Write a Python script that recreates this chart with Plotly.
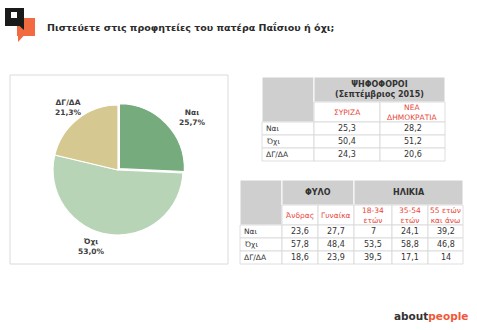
import plotly.graph_objects as go

# ---------------- data ----------------
title_text = "Πιστεύετε στις προφητείες του πατέρα Παΐσιου ή όχι;"

pie_labels = ["Ναι", "Όχι", "ΔΓ/ΔΑ"]
pie_values = [25.7, 53.0, 21.3]

row_labels = ["Ναι", "Όχι", "ΔΓ/ΔΑ"]

t1_group = ["ΨΗΦΟΦΟΡΟΙ<br>(Σεπτέμβριος 2015)"]
t1_group_span = [2]
t1_columns = ["ΣΥΡΙΖΑ", "ΝΕΑ<br>ΔΗΜΟΚΡΑΤΙΑ"]
t1_syriza = [25.3, 50.4, 24.3]
t1_nd = [28.2, 51.2, 20.6]

t2_groups = ["ΦΥΛΟ", "ΗΛΙΚΙΑ"]
t2_group_span = [2, 3]
t2_columns = ["Άνδρας", "Γυναίκα", "18-34<br>ετών", "35-54<br>ετών", "55 ετών<br>και άνω"]
t2_men = [23.6, 57.8, 18.6]
t2_women = [27.7, 48.4, 23.9]
t2_age_18_34 = [7, 53.5, 39.5]
t2_age_35_54 = [24.1, 58.8, 17.1]
t2_age_55 = [39.2, 46.8, 14]

brand_a = "about"
brand_b = "people"

# ---------------- style ----------------
W, H = 477, 330
FONT = "DejaVu Sans"
DARK = "#333333"
RED = "#E8483B"
GRAY = "#CFCFCF"
GRID = "#D6D6D6"
ORANGE = "#F26A3F"
pie_colors = ["#76AB7D", "#B8D4B6", "#D6C891"]
pie_center = (118, 170)
pie_radius = 65
pie_pull = [0.03, 0, 0]
pie_label_pos = [(192, 117.5), (91, 246.5), (68, 107.5)]

t1_x = [262, 314, 380, 445]
t1_y = [77, 102, 122, 135, 148, 161]
t2_x = [240, 282, 318, 354, 392, 428, 463]
t2_y = [180, 205, 225, 238, 251, 264]


def fmt(v):
    if float(v).is_integer():
        return str(int(v))
    return str(v).replace(".", ",")


fig = go.Figure()

# invisible trace to instantiate a pixel-unit cartesian frame
fig.add_trace(go.Scatter(x=[0, W], y=[0, H], mode="markers",
                         marker=dict(opacity=0), hoverinfo="skip", showlegend=False))

# pie
cx, cy = pie_center
s = pie_radius * (1 + max(pie_pull))
fig.add_trace(go.Pie(
    labels=pie_labels, values=pie_values, sort=False, direction="clockwise",
    rotation=0, pull=pie_pull, textinfo="none", hoverinfo="skip",
    marker=dict(colors=pie_colors, line=dict(color="white", width=1.2)),
    domain=dict(x=[(cx - s) / W, (cx + s) / W], y=[1 - (cy + s) / H, 1 - (cy - s) / H]),
    showlegend=False,
))

shapes = []
annotations = []

# pie panel frame
shapes.append(dict(type="rect", xref="x", yref="y", x0=10, x1=228, y0=75, y1=264,
                   line=dict(color="#DADADA", width=1), fillcolor="rgba(0,0,0,0)", layer="below"))

for lab, val, (lx, ly) in zip(pie_labels, pie_values, pie_label_pos):
    annotations.append(dict(x=lx, y=ly, xref="x", yref="y", showarrow=False,
                            text=f"<b>{lab}<br>{val:.1f}%</b>".replace(".", ","),
                            font=dict(family=FONT, size=7.5, color="#404040"),
                            xanchor="center", yanchor="middle", align="center"))


def draw_table(xe, ye, groups, spans, columns, series):
    # label column header (gray, spanning both header rows)
    shapes.append(dict(type="rect", xref="x", yref="y", x0=xe[0], x1=xe[1], y0=ye[0], y1=ye[2],
                       fillcolor=GRAY, line=dict(color="white", width=1)))
    # group headers
    ci = 1
    for g, sp in zip(groups, spans):
        x0, x1 = xe[ci], xe[ci + sp]
        shapes.append(dict(type="rect", xref="x", yref="y", x0=x0, x1=x1, y0=ye[0], y1=ye[1],
                           fillcolor=GRAY, line=dict(color="white", width=1)))
        annotations.append(dict(x=(x0 + x1) / 2, y=(ye[0] + ye[1]) / 2, xref="x", yref="y",
                                showarrow=False, text=f"<b>{g}</b>", align="center",
                                font=dict(family=FONT, size=8, color=DARK)))
        ci += sp
    # column headers
    for j, col in enumerate(columns):
        x0, x1 = xe[j + 1], xe[j + 2]
        shapes.append(dict(type="rect", xref="x", yref="y", x0=x0, x1=x1, y0=ye[1], y1=ye[2],
                           fillcolor="white", line=dict(color=GRID, width=0.8)))
        annotations.append(dict(x=(x0 + x1) / 2, y=(ye[1] + ye[2]) / 2, xref="x", yref="y",
                                showarrow=False, text=col, align="center",
                                font=dict(family=FONT, size=7.5, color=RED)))
    # body
    for i, rl in enumerate(row_labels):
        y0, y1 = ye[2 + i], ye[3 + i]
        shapes.append(dict(type="rect", xref="x", yref="y", x0=xe[0], x1=xe[1], y0=y0, y1=y1,
                           fillcolor="white", line=dict(color=GRID, width=0.8)))
        annotations.append(dict(x=xe[0] + 2, y=(y0 + y1) / 2, xref="x", yref="y",
                                showarrow=False, text=rl, xanchor="left",
                                font=dict(family=FONT, size=7.5, color=DARK)))
        for j, ser in enumerate(series):
            x0, x1 = xe[j + 1], xe[j + 2]
            shapes.append(dict(type="rect", xref="x", yref="y", x0=x0, x1=x1, y0=y0, y1=y1,
                               fillcolor="white", line=dict(color=GRID, width=0.8)))
            annotations.append(dict(x=(x0 + x1) / 2, y=(y0 + y1) / 2, xref="x", yref="y",
                                    showarrow=False, text=fmt(ser[i]),
                                    font=dict(family=FONT, size=8, color=DARK)))


draw_table(t1_x, t1_y, t1_group, t1_group_span, t1_columns, [t1_syriza, t1_nd])
draw_table(t2_x, t2_y, t2_groups, t2_group_span, t2_columns,
           [t2_men, t2_women, t2_age_18_34, t2_age_35_54, t2_age_55])

# logo
shapes += [
    dict(type="rect", xref="x", yref="y", x0=17, x1=35, y0=18, y1=36, fillcolor=ORANGE, line=dict(width=0)),
    dict(type="path", xref="x", yref="y", path="M 18 35.5 L 24 35.5 L 18 42 Z", fillcolor=ORANGE, line=dict(width=0)),
    dict(type="rect", xref="x", yref="y", x0=5, x1=24, y0=8, y1=26, fillcolor="#1A1A1A", line=dict(width=0)),
    dict(type="path", xref="x", yref="y", path="M 19 25.5 L 24 25.5 L 24 30 Z", fillcolor="#1A1A1A", line=dict(width=0)),
    dict(type="rect", xref="x", yref="y", x0=11, x1=17, y0=12, y1=18, fillcolor="white", line=dict(width=0)),
]

# title
annotations.append(dict(x=45, y=27, xref="x", yref="y", showarrow=False, xanchor="left",
                        text=f"<b>{title_text}</b>",
                        font=dict(family=FONT, size=9.5, color="#2B2B2B")))

# brand
annotations.append(dict(x=470, y=316, xref="x", yref="y", showarrow=False, xanchor="right",
                        text=f"<b><span style='color:#333333'>{brand_a}</span>"
                             f"<span style='color:#F0593A'>{brand_b}</span></b>",
                        font=dict(family=FONT, size=10.5)))

fig.update_layout(
    width=W, height=H, margin=dict(l=0, r=0, t=0, b=0),
    paper_bgcolor="white", plot_bgcolor="rgba(0,0,0,0)", showlegend=False,
    font=dict(family=FONT),
    xaxis=dict(range=[0, W], visible=False, fixedrange=True, domain=[0, 1]),
    yaxis=dict(range=[H, 0], visible=False, fixedrange=True, domain=[0, 1]),
    shapes=shapes, annotations=annotations,
)

fig.write_html("out.html")
